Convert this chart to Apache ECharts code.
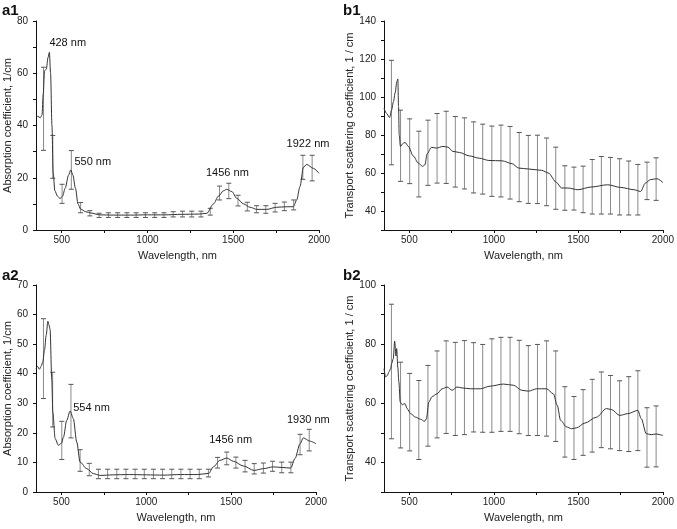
<!DOCTYPE html>
<html><head><meta charset="utf-8">
<script src="https://cdn.jsdelivr.net/npm/echarts@6/dist/echarts.min.js"></script>
<style>html,body{margin:0;padding:0;background:#fff}#c{width:677px;height:529px}</style>
</head><body><div id="c"></div>
<script>
// ---- data ----
const errX = [394,448,502,556,610,664,718,772,826,880,934,988,1042,1096,1150,1204,1258,1312,1366,1420,1474,1528,1582,1636,1690,1744,1798,1852,1906,1960];

const a1X = [350,360,375,385,392,400,410,420,428,435,443,450,460,475,490,505,520,540,553,565,580,595,610,640,670,720,800,900,1000,1100,1200,1300,1346,1385,1414,1443,1462,1492,1521,1560,1598,1637,1695,1753,1812,1851,1870,1889,1909,1928,1967,2000];
const a1Y = [44,43.5,43,44,52,61,61.5,66,68,60,40,22,15,13,12,13,16,21,23,21,16,10,8,7,6.5,5.8,5.7,5.7,5.8,5.8,6,6.1,6.4,10,13,15,15.6,14.7,12.1,10,8.7,7.9,7.9,8.7,8.9,8.9,11.5,16.6,24,25.1,23.6,21.7];
const a1Lo = [30.5,19.8,10.2,15.6,6.6,5.4,4.8,4.8,4.8,4.8,4.8,4.8,4.8,4.8,5,5,5,5,5.7,11.5,12,9.2,7.3,6.6,6.4,6.9,7.4,7.7,19.4,18.8];
const a1Hi = [62.3,36.2,17.5,30.4,10.5,7.4,6.4,6.6,6.6,6.6,6.6,6.6,6.6,6.6,7,7.2,7.2,7.2,8.3,16.8,17.9,13.3,10.6,9.3,9.3,10.2,10.7,11.5,28.6,28.6];
const a1AnnX = [535,681,1466,1936];
const a1AnnY = [71.5,26.1,21.7,32.9];
const a1AnnText = ['428 nm','550 nm','1456 nm','1922 nm'];

const a2X = [350,359,370,380,390,400,410,420,427,433,443,449,463,482,500,512,531,551,570,590,610,649,688,728,800,900,1000,1100,1200,1300,1368,1395,1434,1474,1513,1572,1635,1690,1748,1800,1851,1876,1906,1925,1964,2000];
const a2Y = [41.7,42.5,41.5,42.5,44,48,53,57.7,56.4,55,38,27,18,15.8,16.5,18.6,24.2,27.4,24.8,16.9,10.1,7.9,6.2,5.6,5.8,5.9,5.8,5.7,5.9,5.9,6.3,8.5,10.7,11.5,10.4,8.8,7.3,7.9,8.5,8.3,8.1,11.3,16.3,18.3,17.2,16.3];
const a2Lo = [31.6,22,11,18.3,7,5.5,4.5,4.5,4.5,4.5,4.5,4.5,4.5,4.5,4.5,4.5,4.5,4.5,5.1,8.1,9.2,8.1,6.8,6.1,6.4,7,6.5,6.5,12.6,13.9];
const a2Hi = [58.6,40.5,23.9,36.4,14.3,9.7,7.7,7.7,7.7,7.7,7.7,7.7,7.7,7.7,7.7,7.7,7.7,7.7,7.7,11.7,13.5,11.8,10.7,9.6,9.8,10.4,10.1,10.1,19.5,21.2];
const a2AnnX = [677,1497,1955];
const a2AnnY = [28.4,17.7,24.2];
const a2AnnText = ['554 nm','1456 nm','1930 nm'];

const b1X = [350,364,383,395,406,416,426,432,436,440,447,465,475,494,523,553,578,592,605,631,660,699,728,757,796,855,913,971,1049,1108,1147,1205,1283,1322,1371,1400,1439,1497,1575,1673,1751,1829,1868,1897,1926,1965,2000];
const b1Y = [94.1,91.5,89.2,93.2,97.6,102.3,108.1,109.5,95,80,74,75.7,76.1,74,69,65.2,63.5,64.3,70.1,73.5,73.1,74,73.6,71.4,70.8,69,67.8,66.6,66.4,64.9,62.6,62.1,61.4,60,55,52.1,52.1,51.2,52.6,53.8,52.4,51.2,50.3,54.7,56.5,57,55];
const b1Lo = [64.3,55.6,54.4,47.4,53.5,54.7,54.5,52.6,51.6,49.5,48.9,47.7,47.4,46.3,44.9,44,43.9,42.8,40.9,40.4,40.5,39.1,38.4,38.4,38.4,37.9,37.9,37.9,46,45.6];
const b1Hi = [119.3,93.1,88.5,82,87.8,91.3,92.5,89.7,89,86.9,85.7,84.7,85.2,84.5,81.3,79.8,79.9,78.4,73.6,63.8,63.1,63.6,67.1,68.7,68.2,67.5,66.3,64.5,65.7,68];

const b2X = [350,360,370,379,389,395,405,413,421,425,432,438,446,458,474,487,507,537,566,590,601,615,635,664,694,723,753,782,812,861,920,978,1057,1116,1165,1204,1253,1312,1352,1375,1395,1430,1460,1489,1538,1607,1666,1695,1745,1793,1852,1872,1902,1931,1960,2000];
const b2Y = [71.7,68.9,69.4,70.6,71.7,73.4,75.1,81,76,78.5,72,67.2,60.4,59.5,59.9,58.2,56.5,55.3,54.6,53.9,54.8,60.4,62.3,63.2,64.9,65.5,64.4,65.5,65.2,64.9,64.9,65.8,66.5,66.1,64.4,64.1,64.9,64.9,63.2,59.3,54.2,52,51.4,51.7,53.3,55.3,58.2,57.9,55.9,56.5,57.6,54.8,49.7,49.4,49.6,49.1];
const b2Lo = [48,44.9,43.9,41,45.5,48.3,49.8,49.1,49.4,50.3,50.2,50.2,50.5,50.5,49.7,49.1,49.1,48.9,47.1,41.8,41,42.4,43.5,45,44.6,44,43.7,44,38.4,38.5];
const b2Hi = [93.5,73.9,70.1,67.7,72.8,77.7,81.1,80.6,81.2,80.5,79.9,81.8,82.3,82.3,81.3,79.5,79.9,81.1,77.7,65.6,62.3,64.6,68.1,70.6,69.4,67.6,69,71,58.5,59.1];

const xLabels = [500,1000,1500,2000];
const xTicks = [500,750,1000,1250,1500,1750,2000];
const bYLabels = [40,60,80,100,120,140];
const b1YTicks = [30,40,50,60,70,80,90,100,110,120,130,140];
const b2YLabels = [40,60,80,100];
const b2YTicks = [30,40,50,60,70,80,90,100];

const panelLabels = ['a1','b1','a2','b2'];
const xName = 'Wavelength, nm';
const aYName = 'Absorption coefficient, 1/cm';
const bYName = 'Transport scattering coefficient, 1 / cm';

// ---- chart ----
const FONT = 'Liberation Sans, Arial, sans-serif';
const chart = echarts.init(document.getElementById('c'), null, {renderer:'canvas'});
const zip = (xs, ys) => xs.map((x,i)=>[x, ys[i]]);
const plain = v => String(v);

const grids = [
  {left:36, top:21, width:283, height:209},
  {left:384, top:21, width:282, height:209},
  {left:36, top:285, width:280, height:207},
  {left:384, top:285, width:280, height:207}
];
const axisCommon = {
  axisLine:{show:true, onZero:false, lineStyle:{color:'#111', width:1}},
  axisTick:{show:true, length:3, lineStyle:{color:'#111'}},
  splitLine:{show:false},
  axisLabel:{color:'#222', fontSize:10, fontFamily:FONT, formatter:plain},
  nameTextStyle:{color:'#222', fontSize:11, fontFamily:FONT}
};
function xAxis(gi){
  return Object.assign({}, axisCommon, {
    type:'value', gridIndex:gi, min:350, max:2000,
    name:xName, nameLocation:'middle', nameGap:20,
    axisTick:{show:true, length:3, lineStyle:{color:'#111'}, customValues:xTicks},
    axisLabel:{color:'#222', fontSize:10, fontFamily:FONT, margin:5, customValues:xLabels, formatter:plain}
  });
}
const yAxes = [
  Object.assign({}, axisCommon, {type:'value', gridIndex:0, min:0, max:80, interval:20,
    minorTick:{show:true, splitNumber:2, length:3, lineStyle:{color:'#111'}},
    name:aYName, nameLocation:'middle', nameGap:22}),
  Object.assign({}, axisCommon, {type:'value', gridIndex:1, min:30, max:140,
    axisTick:{show:true, length:3, lineStyle:{color:'#111'}, customValues:b1YTicks},
    axisLabel:{color:'#222', fontSize:10, fontFamily:FONT, customValues:bYLabels, formatter:plain},
    name:bYName, nameLocation:'middle', nameGap:28}),
  Object.assign({}, axisCommon, {type:'value', gridIndex:2, min:0, max:70, interval:10,
    name:aYName, nameLocation:'middle', nameGap:22}),
  Object.assign({}, axisCommon, {type:'value', gridIndex:3, min:30, max:100,
    axisTick:{show:true, length:3, lineStyle:{color:'#111'}, customValues:b2YTicks},
    axisLabel:{color:'#222', fontSize:10, fontFamily:FONT, customValues:b2YLabels, formatter:plain},
    name:bYName, nameLocation:'middle', nameGap:28})
];

function errSeries(gi, lo, hi){
  return {
    type:'custom', xAxisIndex:gi, yAxisIndex:gi, silent:true, z:1,
    data: errX.map((x,i)=>[x, lo[i], hi[i]]),
    encode:{x:0, y:[1,2]},
    renderItem:function(params, api){
      const x = api.value(0);
      const pt = api.coord([x, api.value(2)]);
      const pb = api.coord([x, api.value(1)]);
      const w = 2.5;
      const st = {stroke:'#8a8a8a', lineWidth:1};
      return {type:'group', children:[
        {type:'line', shape:{x1:pt[0], y1:pt[1], x2:pb[0], y2:pb[1]}, style:st},
        {type:'line', shape:{x1:pt[0]-w, y1:pt[1], x2:pt[0]+w, y2:pt[1]}, style:{stroke:'#555', lineWidth:1}},
        {type:'line', shape:{x1:pb[0]-w, y1:pb[1], x2:pb[0]+w, y2:pb[1]}, style:{stroke:'#555', lineWidth:1}}
      ]};
    }
  };
}
function lineSeries(gi, xs, ys){
  return {type:'line', xAxisIndex:gi, yAxisIndex:gi, data:zip(xs, ys), showSymbol:false,
    smooth:0.3, smoothMonotone:'x', lineStyle:{color:'#333', width:1}, z:2, silent:true};
}
function annSeries(gi, xs, ys, texts){
  return {
    type:'custom', xAxisIndex:gi, yAxisIndex:gi, silent:true, z:3,
    data: xs.map((x,i)=>[x, ys[i], i]),
    renderItem:function(params, api){
      const p = api.coord([api.value(0), api.value(1)]);
      return {type:'text', x:p[0], y:p[1], style:{text:texts[api.value(2)], fill:'#111',
        font:'11px '+FONT, align:'center', verticalAlign:'middle'}};
    }
  };
}

const panelPos = [[2,3],[343,3],[2,268],[343,268]];
chart.setOption({
  animation:false,
  backgroundColor:'#fff',
  grid: grids,
  xAxis: [xAxis(0), xAxis(1), xAxis(2), xAxis(3)],
  yAxis: yAxes,
  graphic: panelLabels.map((t,i)=>({type:'text', left:panelPos[i][0], top:panelPos[i][1],
    style:{text:t, font:'bold 15px '+FONT, fill:'#111'}})),
  series: [
    errSeries(0, a1Lo, a1Hi), lineSeries(0, a1X, a1Y), annSeries(0, a1AnnX, a1AnnY, a1AnnText),
    errSeries(1, b1Lo, b1Hi), lineSeries(1, b1X, b1Y),
    errSeries(2, a2Lo, a2Hi), lineSeries(2, a2X, a2Y), annSeries(2, a2AnnX, a2AnnY, a2AnnText),
    errSeries(3, b2Lo, b2Hi), lineSeries(3, b2X, b2Y)
  ]
});
</script></body></html>
